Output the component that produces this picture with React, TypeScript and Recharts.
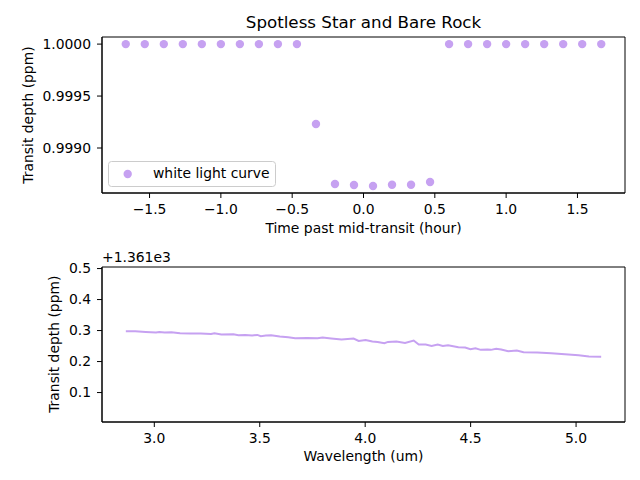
import React from 'react';
import {
  ScatterChart,
  Scatter,
  LineChart,
  Line,
  XAxis,
  YAxis,
  Legend,
  Label,
  ReferenceArea,
} from 'recharts';

// White light curve: time from mid-transit (hours) and relative flux
const timeHours = [
  -1.6667, -1.5333, -1.4, -1.2667, -1.1333, -1.0, -0.8667, -0.7333, -0.6, -0.4667,
  -0.3333, -0.2, -0.0667, 0.0667, 0.2, 0.3333, 0.4667,
  0.6, 0.7333, 0.8667, 1.0, 1.1333, 1.2667, 1.4, 1.5333, 1.6667,
];
const whiteLightDepth = [
  1.0, 1.0, 1.0, 1.0, 1.0, 1.0, 1.0, 1.0, 1.0, 1.0,
  0.999231, 0.998654, 0.998644, 0.998635, 0.998647, 0.998647, 0.998673,
  1.0, 1.0, 1.0, 1.0, 1.0, 1.0, 1.0, 1.0, 1.0,
];

// Transmission spectrum: wavelength (um) and transit depth (ppm)
const wavelengthUm = [
  2.865, 2.91, 2.959, 3.008, 3.024, 3.049, 3.081, 3.122, 3.171, 3.22,
  3.269, 3.285, 3.318, 3.375, 3.399, 3.432, 3.464, 3.489, 3.505, 3.529,
  3.554, 3.595, 3.635, 3.668, 3.725, 3.774, 3.798, 3.839, 3.888, 3.945,
  3.969, 4.002, 4.034, 4.059, 4.091, 4.108, 4.148, 4.189, 4.23, 4.254,
  4.287, 4.315, 4.344, 4.368, 4.393, 4.442, 4.474, 4.499, 4.523, 4.548,
  4.58, 4.596, 4.621, 4.645, 4.678, 4.719, 4.751, 4.816, 4.882, 4.947,
  5.012, 5.061, 5.119,
];
const spectrumDepthPpm = [
  1361.2977, 1361.2977, 1361.2955, 1361.2934, 1361.2955, 1361.2934, 1361.2945, 1361.2912, 1361.2902, 1361.2902,
  1361.2891, 1361.2912, 1361.287, 1361.288, 1361.2848, 1361.2859, 1361.2837, 1361.2859, 1361.2816, 1361.2837,
  1361.2848, 1361.2805, 1361.2784, 1361.2752, 1361.2763, 1361.2752, 1361.2773, 1361.2741, 1361.2709, 1361.2741,
  1361.2666, 1361.2698, 1361.2644, 1361.2634, 1361.2591, 1361.2634, 1361.2644, 1361.2602, 1361.2677, 1361.2548,
  1361.2548, 1361.2505, 1361.2548, 1361.2505, 1361.2527, 1361.2462, 1361.2452, 1361.2398, 1361.243, 1361.2377,
  1361.2387, 1361.2377, 1361.2409, 1361.2387, 1361.2334, 1361.2355, 1361.2302, 1361.2291, 1361.227, 1361.2237,
  1361.2205, 1361.2162, 1361.2151,
];

// Axis ticks
const timeTicks = [-1.5, -1.0, -0.5, 0.0, 0.5, 1.0, 1.5];
const lightCurveTicks = [0.999, 0.9995, 1.0];
const wavelengthTicks = [3.0, 3.5, 4.0, 4.5, 5.0];
const spectrumTicks = [1361.1, 1361.2, 1361.3, 1361.4, 1361.5];
const DEPTH_OFFSET = 1361;

const LAVENDER = '#c6a1f1';
const FONT = 'DejaVu Sans, sans-serif';
const TICK_FONT = 13.9;

const timeDomain: [number, number] = [-1.8333, 1.8333];
const lightDomain: [number, number] = [0.998567, 1.0000683];
const wavelengthDomain: [number, number] = [2.752, 5.232];
const spectrumDomain: [number, number] = [1361.005, 1361.505];

const lightCurveData = timeHours.map((t, i) => ({ t, depth: whiteLightDepth[i] }));
const spectrumData = wavelengthUm.map((wl, i) => ({ wl, depth: spectrumDepthPpm[i] }));

const tickStyle = { fontFamily: FONT, fontSize: TICK_FONT, fill: '#000' };
const withMinus = (v: number, digits: number) => v.toFixed(digits).replace('-', '\u2212');

const Dot = (props: any) => <circle cx={props.cx} cy={props.cy} r={4.2} fill={LAVENDER} />;

const LegendBox = (props: any) => {
  const name = props.payload && props.payload[0] ? props.payload[0].value : '';
  return (
    <svg width={168} height={26} style={{ display: 'block' }}>
      <rect x={0.5} y={0.5} width={167} height={25} rx={3} ry={3} fill="#fff" fillOpacity={0.8} stroke="#cccccc" strokeWidth={1} />
      <circle cx={19.7} cy={13} r={4.2} fill={LAVENDER} />
      <text x={45} y={16.8} fontFamily={FONT} fontSize={TICK_FONT} fill="#000">{name}</text>
    </svg>
  );
};

const textProps = { fontFamily: FONT, fontSize: TICK_FONT, fill: '#000' };

export default function App() {
  return (
    <div style={{ position: 'absolute', left: 0, top: 0, width: 640, height: 480, background: '#fff' }}>
      <div style={{ position: 'absolute', left: 0, top: 0 }}>
        <ScatterChart width={640} height={240} margin={{ top: 37, right: 15, bottom: 0, left: 0 }}>
          <XAxis
            type="number"
            dataKey="t"
            domain={timeDomain}
            allowDataOverflow
            ticks={timeTicks}
            interval={0}
            height={47}
            tickSize={5}
            tickMargin={6}
            tick={tickStyle}
            tickFormatter={(v: number) => withMinus(v, 1)}
            stroke="#000"
          >
            <Label
              content={() => (
                <text x={363.5} y={233} textAnchor="middle" {...textProps}>
                  Time past mid-transit (hour)
                </text>
              )}
            />
          </XAxis>
          <YAxis
            type="number"
            dataKey="depth"
            domain={lightDomain}
            allowDataOverflow
            ticks={lightCurveTicks}
            interval={0}
            width={102}
            tickSize={5}
            tickMargin={6}
            tick={tickStyle}
            tickFormatter={(v: number) => v.toFixed(4)}
            stroke="#000"
          >
            <Label
              content={() => (
                <text x={32.5} y={115} textAnchor="middle" transform="rotate(-90, 32.5, 115)" {...textProps}>
                  Transit depth (ppm)
                </text>
              )}
            />
            <Label
              content={() => (
                <text x={363.5} y={27.5} textAnchor="middle" fontFamily={FONT} fontSize={16.7} fill="#000">
                  Spotless Star and Bare Rock
                </text>
              )}
            />
          </YAxis>
          <ReferenceArea
            x1={timeDomain[0]}
            x2={timeDomain[1]}
            y1={lightDomain[0]}
            y2={lightDomain[1]}
            fill="none"
            stroke="#000"
            strokeWidth={1}
            ifOverflow="visible"
          />
          <Legend
            layout="horizontal"
            verticalAlign="middle"
            align="center"
            wrapperStyle={{ left: 108, top: 161, width: 168, height: 26, margin: 0, padding: 0 }}
            content={LegendBox}
          />
          <Scatter
            name="white light curve"
            data={lightCurveData}
            fill={LAVENDER}
            shape={Dot}
            isAnimationActive={false}
          />
        </ScatterChart>
      </div>
      <div style={{ position: 'absolute', left: 0, top: 240 }}>
        <LineChart width={640} height={240} data={spectrumData} margin={{ top: 27, right: 15, bottom: 0, left: 0 }}>
          <XAxis
            type="number"
            dataKey="wl"
            domain={wavelengthDomain}
            allowDataOverflow
            ticks={wavelengthTicks}
            interval={0}
            height={58}
            tickSize={5}
            tickMargin={6}
            tick={tickStyle}
            tickFormatter={(v: number) => v.toFixed(1)}
            stroke="#000"
          >
            <Label
              content={() => (
                <text x={363.5} y={221} textAnchor="middle" {...textProps}>
                  Wavelength (um)
                </text>
              )}
            />
          </XAxis>
          <YAxis
            type="number"
            dataKey="depth"
            domain={spectrumDomain}
            allowDataOverflow
            ticks={spectrumTicks}
            interval={0}
            width={102}
            tickSize={5}
            tickMargin={6}
            tick={tickStyle}
            tickFormatter={(v: number) => (v - DEPTH_OFFSET).toFixed(1)}
            stroke="#000"
          >
            <Label
              content={() => (
                <text x={58.8} y={104.2} textAnchor="middle" transform="rotate(-90, 58.8, 104.2)" {...textProps}>
                  Transit depth (ppm)
                </text>
              )}
            />
            <Label
              content={() => (
                <text x={102} y={22} textAnchor="start" {...textProps}>
                  +1.361e3
                </text>
              )}
            />
          </YAxis>
          <ReferenceArea
            x1={wavelengthDomain[0]}
            x2={wavelengthDomain[1]}
            y1={spectrumDomain[0]}
            y2={spectrumDomain[1]}
            fill="none"
            stroke="#000"
            strokeWidth={1}
            ifOverflow="visible"
          />
          <Line
            type="linear"
            dataKey="depth"
            stroke={LAVENDER}
            strokeWidth={2}
            dot={false}
            isAnimationActive={false}
          />
        </LineChart>
      </div>
    </div>
  );
}
